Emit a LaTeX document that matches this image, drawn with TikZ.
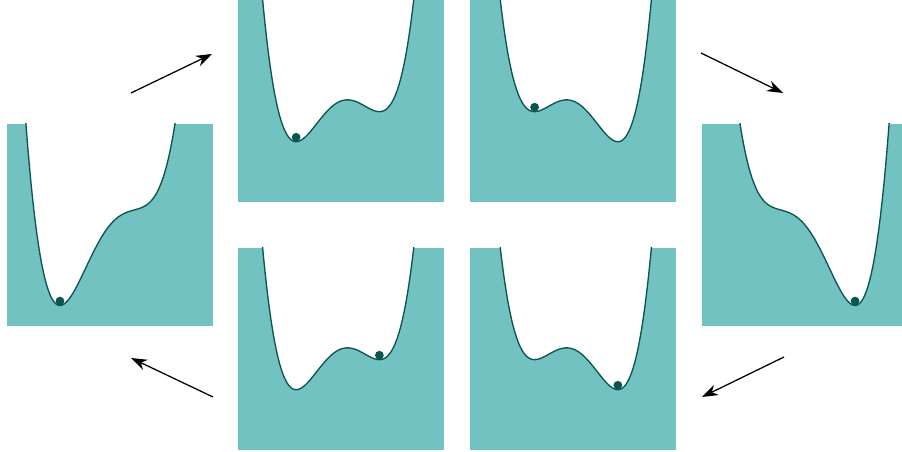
\documentclass[tikz,border=0pt]{standalone}
\usetikzlibrary{arrows.meta}

\definecolor{wellfill}{HTML}{72C2C2}
\definecolor{welldark}{HTML}{0B5450}

\begin{document}
\begin{tikzpicture}[
    x=0.025cm, y=-0.025cm,
    panel/.style={fill=wellfill, minimum width=5.15cm, minimum height=5.05cm, inner sep=0pt},
    curve/.style={draw=welldark, line width=0.95pt},
    ball/.style={circle, fill=welldark, minimum size=0.22cm, inner sep=0pt},
    arrow/.style={-{Stealth[length=0.4cm, width=0.28cm]}, line width=0.9pt},
    declare function={pot(\q,\k)=\q*\q*\q*\q-2*\q*\q+\k*\q;}
  ]
  \clip (0,0) rectangle (902,452);

  % panels of the cycle: name/x/y/tilt/ball position
  \foreach \name/\px/\py/\tilt/\pos in {farleft/110/225/2/-1.1915, topleft/341/101/0.6/-1.068,
      topright/573/101/-0.6/-0.914, farright/805/225/-2/1.1915,
      botright/573/349/-0.6/1.068, botleft/341/349/0.6/0.914} {
    \node[panel] (\name) at (\px,\py) {};
    \begin{scope}[shift={(\name.center)}, x=1.05cm, y=0.6275cm]
      \clip (\name.south west) rectangle (\name.north east);
      \fill[white] plot[domain=-2.45:2.45, samples=120] (\x, {pot(\x,\tilt)})
        -- (2.45,40) -- (-2.45,40) -- cycle;
      \draw[curve] plot[domain=-2.45:2.45, samples=120] (\x, {pot(\x,\tilt)});
      \node[ball, yshift=0.11cm] (\name-ball) at (\pos, {pot(\pos,\tilt)}) {};
    \end{scope}
  }

  % arrows between the panels
  \coordinate (tl-from) at (131,93);
  \coordinate (tl-to) at (212,54);
  \coordinate (tr-from) at (701,53);
  \coordinate (tr-to) at (783,93);
  \coordinate (br-from) at (784,357);
  \coordinate (br-to) at (702,397);
  \coordinate (bl-from) at (213,397);
  \coordinate (bl-to) at (131,358);

  \draw[arrow] (tl-from) -- (tl-to);
  \draw[arrow] (tr-from) -- (tr-to);
  \draw[arrow] (br-from) -- (br-to);
  \draw[arrow] (bl-from) -- (bl-to);
\end{tikzpicture}
\end{document}
